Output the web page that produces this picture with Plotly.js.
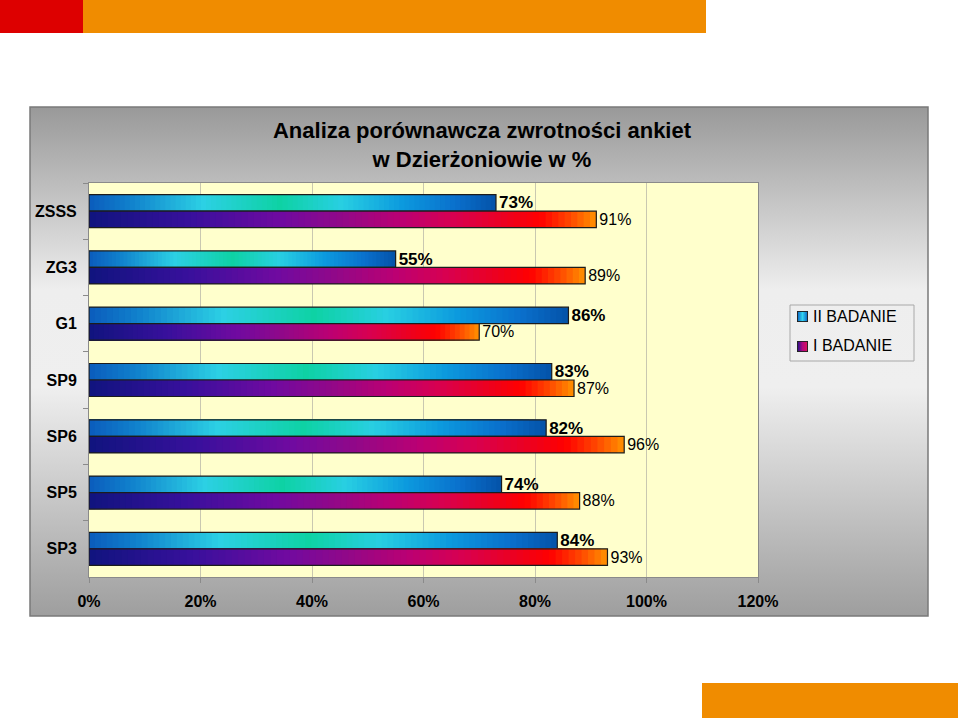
<!DOCTYPE html>
<html>
<head>
<meta charset="utf-8">
<script src="https://cdn.plot.ly/plotly-3.0.1.min.js"></script>
<style>html,body{margin:0;padding:0;background:#fff;}#chart{width:960px;height:718px;}</style>
</head>
<body>
<div id="chart"></div>
<script>
// ---- data ----
const categories = ['ZSSS', 'ZG3', 'G1', 'SP9', 'SP6', 'SP5', 'SP3'];
const badanieII = [73, 55, 86, 83, 82, 74, 84];
const badanieI = [91, 89, 70, 87, 96, 88, 93];
const seriesNames = ['II BADANIE', 'I BADANIE'];
const xTickValues = [0, 20, 40, 60, 80, 100, 120];
const titleLines = ['Analiza porównawcza zwrotności ankiet', 'w Dzierżoniowie w %'];

// ---- styling ----
const FONT = 'Arial, "Liberation Sans", sans-serif';
const gradII = [[0,'#0b5cbc'],[0.1,'#1080cc'],[0.28,'#2cd0e4'],[0.47,'#0ed2a4'],[0.62,'#28cfe2'],[0.77,'#0c9ade'],[0.9,'#0a70cc'],[1,'#0452a8']];
const gradI = [[0,'#10147e'],[0.2,'#38109c'],[0.38,'#700aa0'],[0.5,'#920888'],[0.62,'#bc0072'],[0.72,'#d80050'],[0.82,'#ec0020'],[0.89,'#ff0000'],[0.95,'#ff4a00'],[1,'#ff9200']];
const SEG = 80;

function hexToRgb(h){h=h.replace('#','');return [parseInt(h.substr(0,2),16),parseInt(h.substr(2,2),16),parseInt(h.substr(4,2),16)];}
function colorAt(stops,t){
  for(let i=0;i<stops.length-1;i++){
    const [a,ca]=stops[i],[b,cb]=stops[i+1];
    if(t>=a && t<=b){
      const f=(t-a)/(b-a||1), A=hexToRgb(ca), B=hexToRgb(cb);
      return 'rgb('+A.map((v,j)=>Math.round(v+(B[j]-v)*f)).join(',')+')';
    }
  }
  return stops[stops.length-1][1];
}

const traces = [];
function addSeries(vals, name, stops, group, textFont){
  // gradient: overlaid bars of decreasing length, each shows one colour band
  for(let k=0;k<SEG;k++){
    const frac=(SEG-k)/SEG;
    traces.push({
      type:'bar', orientation:'h', y:categories, x:vals.map(v=>v*frac), base:0,
      offsetgroup:group, name:name, showlegend:false, hoverinfo:'skip',
      marker:{color:colorAt(stops,(SEG-k-0.5)/SEG), line:{width:0}}
    });
  }
  // outline + value labels
  traces.push({
    type:'bar', orientation:'h', y:categories, x:vals, base:0, offsetgroup:group,
    name:name, showlegend:false,
    marker:{color:'rgba(0,0,0,0)', line:{color:'#1c1c1c', width:1.2}},
    text:vals.map(v=>v+'%'), textposition:'outside', cliponaxis:false, constraintext:'none',
    textfont:textFont, hovertemplate:'%{y}: %{x}%<extra>'+name+'</extra>'
  });
}
addSeries(badanieII, seriesNames[0], gradII, 'II', {family:FONT, size:17, color:'#000', weight:'bold'});
addSeries(badanieI, seriesNames[1], gradI, 'I', {family:FONT, size:16, color:'#000'});
// legend entries (swatches drawn as gradient images below)
traces.push({type:'bar', orientation:'h', x:[null], y:[null], name:seriesNames[0], offsetgroup:'II',
  legendgroup:'a', marker:{color:'rgba(0,0,0,0)', line:{width:0}}, showlegend:true});
traces.push({type:'bar', orientation:'h', x:[null], y:[null], name:seriesNames[1], offsetgroup:'I',
  legendgroup:'b', marker:{color:'rgba(0,0,0,0)', line:{width:0}}, showlegend:true});

// pixel -> paper helpers (plot area 89..758 x, 183..577 y)
const L=89,R=758,T=183,B=577;
const px=v=>(v-L)/(R-L), py=v=>(B-v)/(B-T);

function svgUri(s){return 'data:image/svg+xml;charset=utf-8,'+encodeURIComponent(s);}
const bgSvg = "<svg xmlns='http://www.w3.org/2000/svg' width='100' height='100' viewBox='0 0 100 100' preserveAspectRatio='none'>"+
 "<defs><linearGradient id='g' x1='0' y1='0' x2='0' y2='1'>"+
 "<stop offset='0' stop-color='#999999'/><stop offset='0.36' stop-color='#eeeeee'/>"+
 "<stop offset='0.55' stop-color='#efefef'/><stop offset='1' stop-color='#9e9e9e'/>"+
 "</linearGradient></defs><rect width='100' height='100' fill='url(#g)'/></svg>";
function swatchSvg(c0,c1,c2){
  return "<svg xmlns='http://www.w3.org/2000/svg' width='12' height='12' viewBox='0 0 12 12' preserveAspectRatio='none'>"+
  "<defs><linearGradient id='s' x1='0' y1='0' x2='1' y2='0'>"+
  "<stop offset='0' stop-color='"+c0+"'/><stop offset='0.5' stop-color='"+c1+"'/><stop offset='1' stop-color='"+c2+"'/>"+
  "</linearGradient></defs><rect x='0.5' y='0.5' width='11' height='11' fill='url(#s)' stroke='#1c1c1c' stroke-width='1'/></svg>";
}
function swatch(x0,y0,svg){
  return {source:svgUri(svg), xref:'paper', yref:'paper', x:px(x0), y:py(y0),
    sizex:px(x0+11)-px(x0), sizey:py(y0)-py(y0+11), xanchor:'left', yanchor:'top', sizing:'stretch', layer:'above'};
}

const layout = {
  width:960, height:718,
  margin:{l:L, r:960-R, t:T, b:718-B, pad:0},
  paper_bgcolor:'#ffffff', plot_bgcolor:'rgba(0,0,0,0)',
  font:{family:FONT, color:'#000'},
  barmode:'group', bargap:0.414, bargroupgap:0,
  title:{text:titleLines.join('<br>'), x:482/960, xanchor:'center', xref:'container',
    y:1-138/718, yanchor:'top', yref:'container',
    font:{family:FONT, size:22, color:'#000', weight:'bold'}},
  xaxis:{range:[0,120], tickvals:xTickValues, ticktext:xTickValues.map(v=>v+'%'),
    showgrid:true, gridcolor:'#c9c8b0', gridwidth:1, zeroline:false,
    showline:true, linecolor:'#8a8a8a', linewidth:1, mirror:true,
    ticks:'outside', ticklen:5, tickcolor:'#8a8a8a', ticklabelstandoff:5,
    tickfont:{family:FONT, size:16, color:'#000', weight:'bold'}, fixedrange:true},
  yaxis:{type:'category', categoryarray:categories, autorange:'reversed',
    showgrid:false, zeroline:false, showline:true, linecolor:'#8a8a8a', linewidth:1, mirror:true,
    ticks:'outside', tickson:'boundaries', ticklen:5, tickcolor:'#8a8a8a', ticklabelstandoff:8,
    tickfont:{family:FONT, size:16, color:'#000', weight:'bold'}, fixedrange:true},
  legend:{x:px(790-17), y:py(299), xanchor:'left', yanchor:'top', xref:'paper', yref:'paper',
    bgcolor:'rgba(0,0,0,0)', borderwidth:0,
    font:{family:FONT, size:16, color:'#000'}, traceorder:'grouped', tracegroupgap:5, itemwidth:30},
  images:[
    {source:svgUri(bgSvg), xref:'paper', yref:'paper', x:px(30), y:py(107), sizex:px(928)-px(30), sizey:py(107)-py(616),
      xanchor:'left', yanchor:'top', sizing:'stretch', layer:'below'},
    swatch(797,311,swatchSvg('#0a64c4','#34d4f0','#0a64c4')),
    swatch(797,341,swatchSvg('#22108c','#b00a80','#e0105a'))
  ],
  shapes:[
    {type:'rect', xref:'paper', yref:'paper', x0:0, x1:1, y0:0, y1:1, layer:'below',
      fillcolor:'#ffffcc', line:{width:0}},
    {type:'rect', xref:'paper', yref:'paper', x0:px(30), x1:px(928), y0:py(616), y1:py(107), layer:'below',
      fillcolor:'rgba(0,0,0,0)', line:{color:'#7a7a7a', width:1.5}},
    {type:'rect', xref:'paper', yref:'paper', x0:px(790), x1:px(914), y0:py(361), y1:py(305), layer:'below',
      fillcolor:'rgba(0,0,0,0)', line:{color:'#a8a8a8', width:1}},
    {type:'rect', xref:'paper', yref:'paper', x0:px(0), x1:px(83), y0:py(33), y1:py(0), layer:'below',
      fillcolor:'#dd0000', line:{width:0}},
    {type:'rect', xref:'paper', yref:'paper', x0:px(83), x1:px(706), y0:py(33), y1:py(0), layer:'below',
      fillcolor:'#f08c00', line:{width:0}},
    {type:'rect', xref:'paper', yref:'paper', x0:px(702), x1:px(958), y0:py(718), y1:py(683), layer:'below',
      fillcolor:'#f08c00', line:{width:0}}
  ],
  hovermode:'closest'
};

Plotly.newPlot('chart', traces, layout, {displayModeBar:false});
</script>
</body>
</html>
